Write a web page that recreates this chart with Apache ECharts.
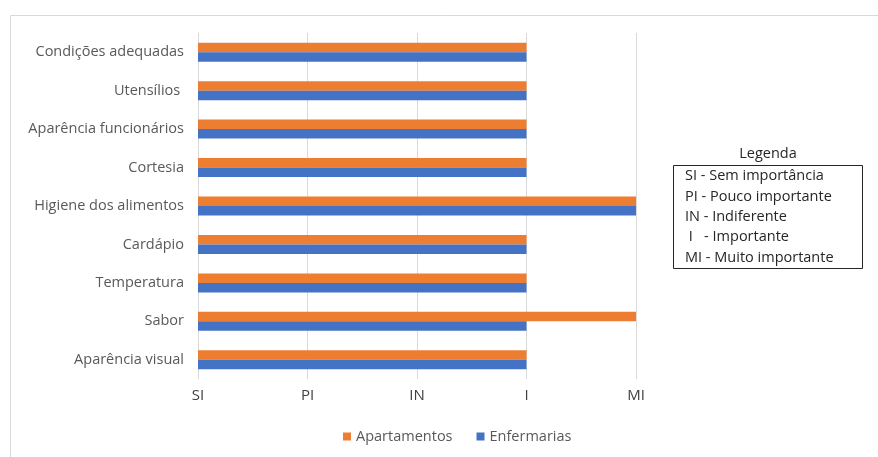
<!DOCTYPE html>
<html>
<head>
<meta charset="utf-8">
<script src="https://cdn.jsdelivr.net/npm/echarts@6/dist/echarts.min.js"></script>
<style>
  html, body { margin: 0; padding: 0; background: #fff; }
  #chart { width: 878px; height: 457px; }
</style>
</head>
<body>
<div id="chart"></div>
<script>
// categorias de baixo para cima
const categorias = ['Aparência visual', 'Sabor', 'Temperatura', 'Cardápio', 'Higiene dos alimentos',
  'Cortesia', 'Aparência funcionários', 'Utensílios ', 'Condições adequadas'];
// 0 = SI, 1 = PI, 2 = IN, 3 = I, 4 = MI
const apartamentos = [3, 4, 3, 3, 4, 3, 3, 3, 3];
const enfermarias = [3, 3, 3, 3, 4, 3, 3, 3, 3];
const escala = ['SI', 'PI', 'IN', 'I', 'MI'];
const legendaTextos = ['SI - Sem importância', 'PI - Pouco importante', 'IN - Indiferente',
  ' I   - Importante', 'MI - Muito importante'];

const chart = echarts.init(document.getElementById('chart'));
const fonte = '"Open Sans", "Noto Sans", sans-serif';

const legendaGraphic = [
  {
    type: 'rect',
    left: 8, top: 13,
    shape: { width: 880, height: 460 },
    style: { fill: 'none', stroke: '#d9d9d9', lineWidth: 1 },
    silent: true
  },
  {
    type: 'text',
    x: 768, y: 154,
    style: { text: 'Legenda', font: '14.5px ' + fonte, fill: '#262626', textAlign: 'center', textVerticalAlign: 'middle' }
  },
  {
    type: 'rect',
    left: 673, top: 165,
    shape: { width: 189, height: 103 },
    style: { fill: '#fff', stroke: '#262626', lineWidth: 1 }
  }
];
legendaTextos.forEach((t, i) => {
  legendaGraphic.push({
    type: 'text',
    x: 685, y: 176 + i * 20.4,
    style: { text: t, font: '14.5px ' + fonte, fill: '#262626', textVerticalAlign: 'middle' }
  });
});

const option = {
  backgroundColor: '#fff',
  animation: false,
  color: ['#ED7D31', '#4472C4'],
  grid: { left: 198, right: 242, top: 33, bottom: 78 },
  legend: {
    data: ['Apartamentos', 'Enfermarias'],
    bottom: 8,
    left: 338,
    itemWidth: 8, itemHeight: 8,
    itemGap: 24,
    icon: 'rect',
    textStyle: { color: '#595959', fontSize: 14.5, fontFamily: fonte }
  },
  xAxis: {
    type: 'value',
    min: 0, max: 4, interval: 1,
    axisLine: { show: false },
    axisTick: { show: false },
    splitLine: { lineStyle: { color: '#d9d9d9' } },
    axisLabel: {
      margin: 9,
      color: '#404040', fontSize: 15, fontFamily: fonte,
      formatter: v => escala[v]
    }
  },
  yAxis: {
    type: 'category',
    data: categorias,
    axisLine: { lineStyle: { color: '#d9d9d9' } },
    axisTick: { show: false },
    axisLabel: { margin: 14, color: '#595959', fontSize: 14.5, fontFamily: fonte }
  },
  series: [
    { name: 'Apartamentos', type: 'bar', data: apartamentos, barWidth: 9.5, barGap: '0%' },
    { name: 'Enfermarias', type: 'bar', data: enfermarias, barWidth: 9.5, barGap: '0%' }
  ],
  graphic: legendaGraphic
};
chart.setOption(option);
</script>
</body>
</html>
